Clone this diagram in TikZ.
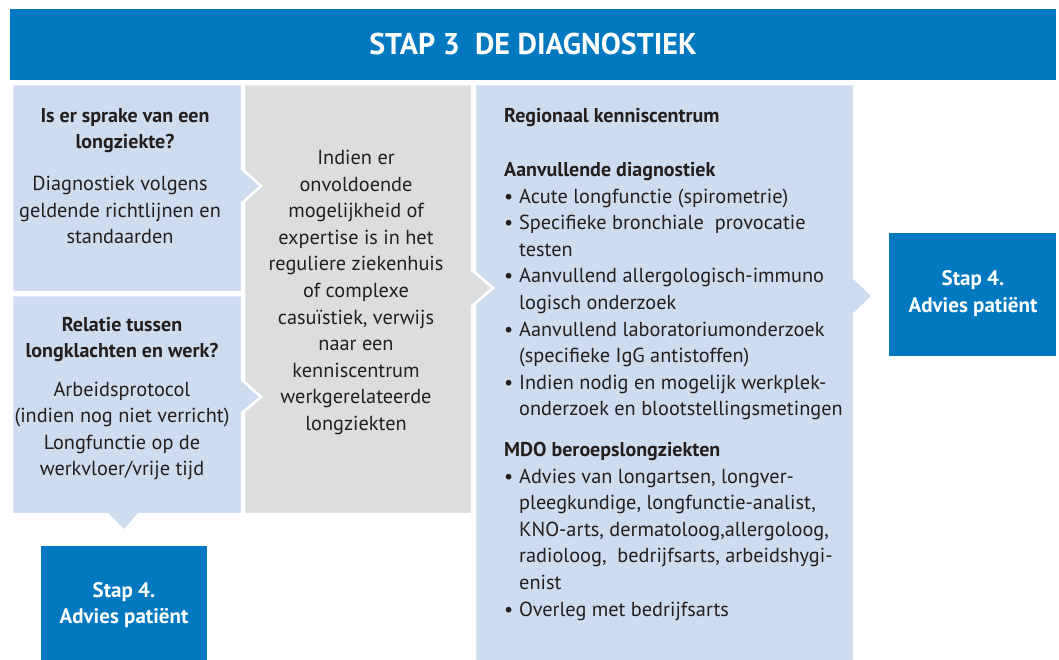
\documentclass[tikz,border=0pt]{standalone}
\usepackage{fontspec}
\setmainfont{PT Sans}
\definecolor{hdrblue}{HTML}{0079C1}
\definecolor{lightblue}{HTML}{CDDCEE}
\definecolor{lightgray}{HTML}{DCDDDF}
\definecolor{txt}{HTML}{231F20}
\newcommand{\bul}{\makebox[15pt][l]{\textbullet}}
\newcommand{\cont}{\hspace*{15pt}}
\begin{document}
\begin{tikzpicture}[x=1pt,y=-1pt,
  panel/.style={fill=lightblue, draw=white, line width=2.5pt},
  gpanel/.style={fill=lightgray, draw=white, line width=2.5pt},
  body/.style={font=\fontsize{20.3}{26.6}\selectfont, text=txt, inner sep=0pt, align=center},
  head/.style={font=\fontsize{20}{26.6}\selectfont\bfseries, text=txt, inner sep=0pt, align=center},
  lbody/.style={font=\fontsize{20.3}{26.6}\selectfont, text=txt, inner sep=0pt, align=left, anchor=west},
  lhead/.style={font=\fontsize{20}{26.6}\selectfont\bfseries, text=txt, inner sep=0pt, align=left, anchor=west},
  wtext/.style={font=\fontsize{21}{26.6}\selectfont\bfseries, text=white, inner sep=0pt, align=center}
]
\useasboundingbox (0,0) rectangle (1059,659);
% header
\fill[hdrblue] (10,9) rectangle (1056,80);
\node[font=\fontsize{30}{34}\selectfont\bfseries, text=white, inner sep=0pt] (hdr) at (533,44) {STAP 3\ \ DE DIAGNOSTIEK};
% right panel
\path[panel] (475,84) -- (854,84) -- (854,278) -- (873,296) -- (854,314) -- (854,662) -- (475,662) -- cycle;
% gray panel
\path[gpanel] (244,84) -- (472,84) -- (472,270) -- (493,288) -- (472,306) -- (472,514) -- (244,514) -- cycle;
% left panels
\path[panel] (12,84) -- (242,84) -- (242,169) -- (261,186) -- (242,203) -- (242,292) -- (12,292) -- cycle;
\path[panel] (12,295) -- (242,295) -- (242,380) -- (261,397) -- (242,413) -- (242,514) -- (139,514) -- (124,531) -- (107,514) -- (12,514) -- cycle;
% step 4 boxes
\fill[hdrblue] (889,233) rectangle (1056,356);
\fill[hdrblue] (41,546) rectangle (207,662);
% texts left
\node[head] (q1) at (125,130.5) {Is er sprake van een\\longziekte?};
\node[body] (b1) at (120,210) {Diagnostiek volgens\\geldende richtlijnen en\\standaarden};
\node[head] (q2) at (122,339.5) {Relatie tussen\\longklachten en werk?};
\node[body] (b2) at (122,431) {Arbeidsprotocol\\(indien nog niet verricht)\\Longfunctie op de\\werkvloer/vrije tijd};
% gray text
\node[body] (g) at (356,292.5) {Indien er\\onvoldoende\\mogelijkheid of\\expertise is in het\\reguliere ziekenhuis\\of complexe\\casuïstiek, verwijs\\naar een\\kenniscentrum\\werkgerelateerde\\longziekten};
% right texts
\node[lhead] (r0) at (504,118) {Regionaal kenniscentrum};
\node[lhead] (r1) at (504,172) {Aanvullende diagnostiek};
\node[lbody] (r1l) at (504,304.5) {\bul Acute longfunctie (spirometrie)\\
\bul Specifieke bronchiale\ \ provocatie\\
\cont testen\\
\bul Aanvullend allergologisch-immuno\\
\cont logisch onderzoek\\
\bul Aanvullend laboratoriumonderzoek\\
\cont (specifieke IgG antistoffen)\\
\bul Indien nodig en mogelijk werkplek-\\
\cont onderzoek en blootstellingsmetingen};
\node[lhead] (r2) at (504,451) {MDO beroepslongziekten};
\node[lbody] (r2l) at (504,544.5) {\bul Advies van longartsen, longver-\\
\cont pleegkundige, longfunctie-analist,\\
\cont KNO-arts, dermatoloog,allergoloog,\\
\cont radioloog,\ \ bedrijfsarts, arbeidshygi-\\
\cont enist\\
\bul Overleg met bedrijfsarts};
% step 4 texts
\node[wtext] (s4r) at (973,293.5) {Stap 4.\\Advies patiënt};
\node[wtext] (s4b) at (124,605) {Stap 4.\\Advies patiënt};
\end{tikzpicture}
\end{document}
